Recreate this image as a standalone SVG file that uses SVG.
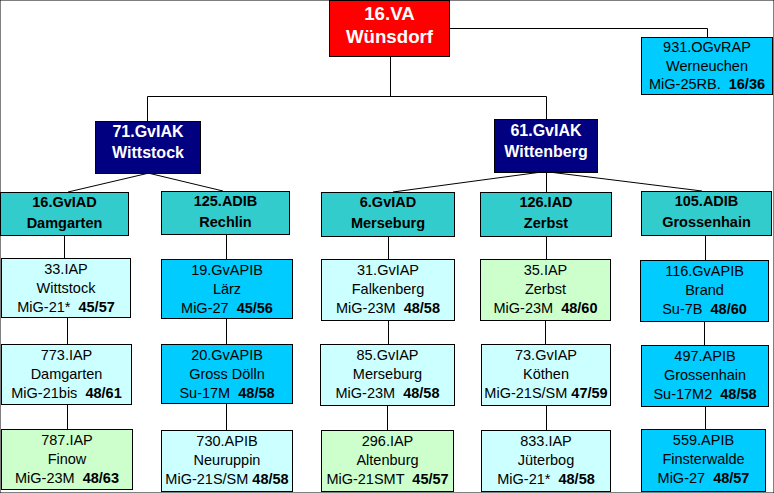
<svg xmlns="http://www.w3.org/2000/svg" width="774" height="493" viewBox="0 0 774 493">
<style>
rect{stroke:#000;stroke-width:1}
.red{fill:#FF0000}.navy{fill:#000080}.teal{fill:#33CCCC}.lc{fill:#CCFFFF}.sky{fill:#00CCFF}.lg{fill:#CCFFCC}
text{font-family:"Liberation Sans",Arial,sans-serif;text-anchor:middle;fill:#000}
.t1{font-size:18.7px;font-weight:bold;fill:#fff}
.t2{font-size:16px;font-weight:bold;fill:#fff}
.t3{font-size:14.5px;font-weight:bold}
.t4{font-size:14.5px}
.b{font-weight:bold}
#connectors polyline,#connectors line{fill:none;stroke:#000;stroke-width:1}
</style>
<rect x="0" y="0" width="774" height="493" fill="#fff" stroke="none"/>
<g id="connectors">
<polyline points="390.5,56 390.5,96.5"/>
<polyline points="147.5,121 147.5,96.5 546.5,96.5 546.5,119"/>
<polyline points="449,28.5 707.5,28.5 707.5,37"/>
<line x1="147" y1="173.5" x2="68" y2="192"/>
<line x1="150" y1="173.5" x2="223" y2="191"/>
<line x1="538" y1="172.5" x2="393" y2="192"/>
<line x1="546.5" y1="172.5" x2="546.5" y2="192"/>
<line x1="553" y1="172.5" x2="702" y2="191"/>
<line x1="64.5" y1="235" x2="64.5" y2="258"/>
<line x1="67.5" y1="317" x2="67.5" y2="344"/>
<line x1="67.5" y1="404" x2="67.5" y2="429"/>
<line x1="226.5" y1="234" x2="226.5" y2="259"/>
<line x1="226.5" y1="318" x2="226.5" y2="344"/>
<line x1="226.5" y1="403" x2="226.5" y2="430"/>
<line x1="388.5" y1="236" x2="388.5" y2="259"/>
<line x1="388.5" y1="320" x2="388.5" y2="344"/>
<line x1="387.5" y1="405" x2="387.5" y2="430"/>
<line x1="546.5" y1="236" x2="546.5" y2="259"/>
<line x1="545.5" y1="320" x2="545.5" y2="344"/>
<line x1="546.5" y1="405" x2="546.5" y2="430"/>
<line x1="705.5" y1="235" x2="705.5" y2="260"/>
<line x1="704.5" y1="321" x2="704.5" y2="345"/>
<line x1="705.5" y1="406" x2="705.5" y2="429"/>
</g>
<g id="va"><rect class="red" x="329.5" y="0.5" width="120" height="56"/><text class="t1" x="389.5" y="20">16.VA</text><text class="t1" x="389.5" y="43">Wünsdorf</text></g>
<g id="ogvrap931"><rect class="sky" x="641.5" y="37.5" width="131" height="57"/><text class="t4" x="707" y="52">931.OGvRAP</text><text class="t4" x="707" y="71">Werneuchen</text><text class="t4" x="707" y="89" xml:space="preserve">MiG-25RB.  <tspan class="b">16/36</tspan></text></g>
<g id="gviak71"><rect class="navy" x="95.5" y="121.5" width="105" height="52"/><text class="t2" x="148" y="137">71.GvIAK</text><text class="t2" x="148" y="158">Wittstock</text></g>
<g id="gviak61"><rect class="navy" x="494.5" y="119.5" width="103" height="53"/><text class="t2" x="546" y="136">61.GvIAK</text><text class="t2" x="546" y="157">Wittenberg</text></g>
<g id="gviad16"><rect class="teal" x="0.5" y="192.5" width="128" height="43"/><text class="t3" x="64.5" y="207">16.GvIAD</text><text class="t3" x="64.5" y="228">Damgarten</text></g>
<g id="adib125"><rect class="teal" x="161.5" y="191.5" width="128" height="43"/><text class="t3" x="225.5" y="206">125.ADIB</text><text class="t3" x="225.5" y="227">Rechlin</text></g>
<g id="gviad6"><rect class="teal" x="321.5" y="192.5" width="133" height="44"/><text class="t3" x="388" y="207">6.GvIAD</text><text class="t3" x="388" y="228">Merseburg</text></g>
<g id="iad126"><rect class="teal" x="480.5" y="192.5" width="131" height="44"/><text class="t3" x="546" y="207">126.IAD</text><text class="t3" x="546" y="228">Zerbst</text></g>
<g id="adib105"><rect class="teal" x="641.5" y="191.5" width="130" height="44"/><text class="t3" x="706.5" y="206">105.ADIB</text><text class="t3" x="706.5" y="227">Grossenhain</text></g>
<g id="iap33"><rect class="lc" x="1.5" y="258.5" width="129" height="59"/><text class="t4" x="66" y="274">33.IAP</text><text class="t4" x="66" y="293">Wittstock</text><text class="t4" x="66" y="312" xml:space="preserve">MiG-21*  <tspan class="b">45/57</tspan></text></g>
<g id="iap773"><rect class="lc" x="1.5" y="344.5" width="130" height="60"/><text class="t4" x="66.5" y="360">773.IAP</text><text class="t4" x="66.5" y="379">Damgarten</text><text class="t4" x="66.5" y="398" xml:space="preserve">MiG-21bis  <tspan class="b">48/61</tspan></text></g>
<g id="iap787"><rect class="lg" x="1.5" y="429.5" width="131" height="60"/><text class="t4" x="67" y="445">787.IAP</text><text class="t4" x="67" y="464">Finow</text><text class="t4" x="67" y="483" xml:space="preserve">MiG-23M  <tspan class="b">48/63</tspan></text></g>
<g id="gvapib19"><rect class="sky" x="161.5" y="259.5" width="131" height="59"/><text class="t4" x="227" y="275">19.GvAPIB</text><text class="t4" x="227" y="294">Lärz</text><text class="t4" x="227" y="313" xml:space="preserve">MiG-27  <tspan class="b">45/56</tspan></text></g>
<g id="gvapib20"><rect class="sky" x="161.5" y="344.5" width="131" height="59"/><text class="t4" x="227" y="360">20.GvAPIB</text><text class="t4" x="227" y="379">Gross Dölln</text><text class="t4" x="227" y="398" xml:space="preserve">Su-17M  <tspan class="b">48/58</tspan></text></g>
<g id="apib730"><rect class="lc" x="161.5" y="430.5" width="131" height="61"/><text class="t4" x="227" y="446">730.APIB</text><text class="t4" x="227" y="465">Neuruppin</text><text class="t4" x="227" y="484" xml:space="preserve">MiG-21S/SM <tspan class="b">48/58</tspan></text></g>
<g id="gviap31"><rect class="lc" x="321.5" y="259.5" width="133" height="61"/><text class="t4" x="388" y="275">31.GvIAP</text><text class="t4" x="388" y="294">Falkenberg</text><text class="t4" x="388" y="313" xml:space="preserve">MiG-23M  <tspan class="b">48/58</tspan></text></g>
<g id="gviap85"><rect class="lc" x="320.5" y="344.5" width="134" height="61"/><text class="t4" x="387.5" y="360">85.GvIAP</text><text class="t4" x="387.5" y="379">Merseburg</text><text class="t4" x="387.5" y="398" xml:space="preserve">MiG-23M  <tspan class="b">48/58</tspan></text></g>
<g id="iap296"><rect class="lg" x="321.5" y="430.5" width="132" height="61"/><text class="t4" x="387.5" y="446">296.IAP</text><text class="t4" x="387.5" y="465">Altenburg</text><text class="t4" x="387.5" y="484" xml:space="preserve">MiG-21SMT  <tspan class="b">45/57</tspan></text></g>
<g id="iap35"><rect class="lg" x="480.5" y="259.5" width="130" height="61"/><text class="t4" x="545.5" y="275">35.IAP</text><text class="t4" x="545.5" y="294">Zerbst</text><text class="t4" x="545.5" y="313" xml:space="preserve">MiG-23M  <tspan class="b">48/60</tspan></text></g>
<g id="gviap73"><rect class="lc" x="481.5" y="344.5" width="129" height="61"/><text class="t4" x="546" y="360">73.GvIAP</text><text class="t4" x="546" y="379">Köthen</text><text class="t4" x="546" y="398" xml:space="preserve">MiG-21S/SM <tspan class="b">47/59</tspan></text></g>
<g id="iap833"><rect class="lc" x="481.5" y="430.5" width="129" height="61"/><text class="t4" x="546" y="446">833.IAP</text><text class="t4" x="546" y="465">Jüterbog</text><text class="t4" x="546" y="484" xml:space="preserve">MiG-21*  <tspan class="b">48/58</tspan></text></g>
<g id="gvapib116"><rect class="sky" x="640.5" y="260.5" width="128" height="61"/><text class="t4" x="704.5" y="276">116.GvAPIB</text><text class="t4" x="704.5" y="295">Brand</text><text class="t4" x="704.5" y="314" xml:space="preserve">Su-7B  <tspan class="b">48/60</tspan></text></g>
<g id="apib497"><rect class="sky" x="641.5" y="345.5" width="127" height="61"/><text class="t4" x="705" y="361">497.APIB</text><text class="t4" x="705" y="380">Grossenhain</text><text class="t4" x="705" y="399" xml:space="preserve">Su-17M2  <tspan class="b">48/58</tspan></text></g>
<g id="apib559"><rect class="sky" x="641.5" y="429.5" width="124" height="62"/><text class="t4" x="703.5" y="445">559.APIB</text><text class="t4" x="703.5" y="464">Finsterwalde</text><text class="t4" x="703.5" y="483" xml:space="preserve">MiG-27  <tspan class="b">48/57</tspan></text></g>
</svg>
